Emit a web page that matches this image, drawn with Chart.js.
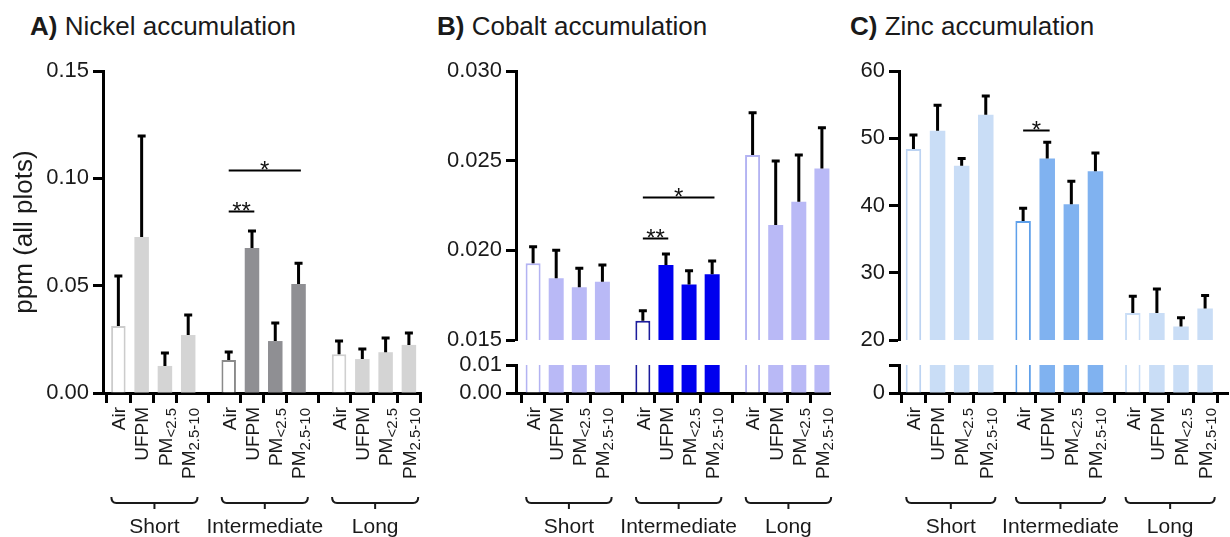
<!DOCTYPE html>
<html>
<head>
<meta charset="utf-8">
<script src="https://cdn.jsdelivr.net/npm/chart.js@4.4.1/dist/chart.umd.min.js"></script>
<style>
  html, body { margin: 0; padding: 0; background: #fff; }
  body { width: 1230px; height: 537px; position: relative; overflow: hidden;
         font-family: "Liberation Sans", Arial, sans-serif; }
  canvas { position: absolute; top: 0; }
  .title { position: absolute; top: 13px; font-size: 26px; line-height: 26px; color: #1a1a1a; white-space: nowrap; }
</style>
</head>
<body>
<div class="title" style="left:30px"><b>A)</b> Nickel accumulation</div>
<div class="title" style="left:437px"><b>B)</b> Cobalt accumulation</div>
<div class="title" style="left:850px"><b>C)</b> Zinc accumulation</div>
<canvas id="cA" width="425" height="537" style="left:0px"></canvas>
<canvas id="cB" width="410" height="537" style="left:425px"></canvas>
<canvas id="cC" width="395" height="537" style="left:835px"></canvas>
<script>
// ---------------- data ----------------
const CATEGORIES = ['Air', 'UFPM', 'PM<2.5', 'PM2.5-10'];
const CATEGORY_MAIN = ['Air', 'UFPM', 'PM', 'PM'];
const CATEGORY_SUB = ['', '', '<2.5', '2.5-10'];
const GROUPS = ['Short', 'Intermediate', 'Long'];

// order: Short(Air,UFPM,PM<2.5,PM2.5-10), Intermediate(...), Long(...)
const NICKEL_MEAN = [0.0312, 0.0727, 0.0126, 0.0270, 0.0154, 0.0675, 0.0242, 0.0508, 0.0180, 0.0158, 0.0190, 0.0224];
const NICKEL_SEM  = [0.0233, 0.0470, 0.0060, 0.0093, 0.0037, 0.0080, 0.0084, 0.0097, 0.0062, 0.0047, 0.0066, 0.0056];
const COBALT_MEAN = [0.01928, 0.01844, 0.01794, 0.01825, 0.01608, 0.01918, 0.01810, 0.01866, 0.02531, 0.02141, 0.02271, 0.02457];
const COBALT_SEM  = [0.00092, 0.00156, 0.00106, 0.00093, 0.00055, 0.00062, 0.00076, 0.00074, 0.00236, 0.00357, 0.00260, 0.00226];
const ZINC_MEAN = [48.4, 51.1, 45.9, 53.5, 37.7, 47.0, 40.2, 45.1, 24.0, 24.0, 22.0, 24.7];
const ZINC_SEM  = [2.1, 3.8, 1.1, 2.8, 1.9, 2.4, 3.4, 2.7, 2.5, 3.6, 1.3, 1.9];

const NICKEL_TICKS = [0, 0.05, 0.10, 0.15];
const NICKEL_TICK_LABELS = ['0.00', '0.05', '0.10', '0.15'];
const COBALT_TICKS_UPPER = [0.015, 0.020, 0.025, 0.030];
const COBALT_TICK_LABELS_UPPER = ['0.015', '0.020', '0.025', '0.030'];
const COBALT_TICKS_LOWER = [0, 0.01];
const COBALT_TICK_LABELS_LOWER = ['0.00', '0.01'];
const ZINC_TICKS_UPPER = [20, 30, 40, 50, 60];
const ZINC_TICK_LABELS_UPPER = ['20', '30', '40', '50', '60'];
const ZINC_TICKS_LOWER = [0, 5];
const ZINC_TICK_LABELS_LOWER = ['0', ''];

// significance brackets: bar index from/to, height in data units
const NICKEL_SIG = [{ from: 4, to: 5, y: 0.0848, text: '**' }, { from: 4, to: 7, y: 0.1040, text: '*' }];
const COBALT_SIG = [{ from: 4, to: 5, y: 0.0207, text: '**' }, { from: 4, to: 7, y: 0.02296, text: '*' }];
const ZINC_SIG = [{ from: 4, to: 5, y: 51.3, text: '*' }];

const Y_TITLE = 'ppm (all plots)';

// ---------------- styling / layout ----------------
const FONT = "'Liberation Sans', Arial, sans-serif";
Chart.defaults.font.family = FONT;
Chart.defaults.color = '#1a1a1a';

const PANELS = [
  { id: 'cA', mean: NICKEL_MEAN, sem: NICKEL_SEM, sig: NICKEL_SIG,
    upper: { min: 0, max: 0.15, ticks: NICKEL_TICKS, labels: NICKEL_TICK_LABELS },
    lower: null, yTitle: Y_TITLE,
    yAxisWidth: 103, padRight: 4, xMin: -0.66, xMax: 13.0, stride: 4.74, barThickness: 14.5,
    fill: ['#d4d4d4', '#8f8f93', '#d4d4d4'], airBorder: ['#cccccc', '#8a8a8a', '#d0d0d0'] },
  { id: 'cB', mean: COBALT_MEAN, sem: COBALT_SEM, sig: COBALT_SIG,
    upper: { min: 0.015, max: 0.030, ticks: COBALT_TICKS_UPPER, labels: COBALT_TICK_LABELS_UPPER },
    lower: { min: 0, max: 0.01, ticks: COBALT_TICKS_LOWER, labels: COBALT_TICK_LABELS_LOWER },
    yTitle: null,
    yAxisWidth: 91, padRight: 5, xMin: -0.74, xMax: 12.85, stride: 4.75, barThickness: 15,
    fill: ['#b9b9f6', '#0000ee', '#b9b9f6'], airBorder: ['#b3b3f2', '#1c1c9c', '#b3b3f2'] },
  { id: 'cC', mean: ZINC_MEAN, sem: ZINC_SEM, sig: ZINC_SIG,
    upper: { min: 20, max: 60, ticks: ZINC_TICKS_UPPER, labels: ZINC_TICK_LABELS_UPPER },
    lower: { min: 0, max: 5, ticks: ZINC_TICKS_LOWER, labels: ZINC_TICK_LABELS_LOWER },
    yTitle: null,
    yAxisWidth: 64, padRight: 2, xMin: -0.6, xMax: 13.05, stride: 4.55, barThickness: 15.5,
    fill: ['#c9ddf6', '#80b2f0', '#c9ddf6'], airBorder: ['#bcd3f2', '#5fa0ea', '#c9ddf6'] }
];

const CHART_TOP = 71, X_AXIS_HEIGHT = 144;
const SEG_UPPER = 269, SEG_GAP = 25, SEG_LOWER = 28;

function xPos(p, k) { return Math.floor(k / 4) * p.stride + (k % 4); }

function yAxis(p, spec, extra) {
  return Object.assign({
    type: 'linear', position: 'left', min: spec.min, max: spec.max,
    afterBuildTicks: s => { s.ticks = spec.ticks.map(v => ({ value: v })); },
    afterFit: s => { s.width = p.yAxisWidth; },
    ticks: { autoSkip: false, padding: 4, color: '#1a1a1a', font: { size: 22 },
             callback: (v, i) => spec.labels[i] },
    grid: { drawOnChartArea: false, drawTicks: true, tickLength: 10, tickWidth: 3, tickColor: '#000' },
    border: { display: true, color: '#000', width: 3 }
  }, extra || {});
}

function makeChart(p) {
  const pts = p.mean.map((v, k) => ({ x: xPos(p, k), y: v }));
  const tickPositions = p.mean.map((v, k) => xPos(p, k));
  const style = {
    backgroundColor: c => (c.dataIndex % 4 === 0 ? '#ffffff' : p.fill[Math.floor(c.dataIndex / 4)]),
    borderColor: c => (c.dataIndex % 4 === 0 ? p.airBorder[Math.floor(c.dataIndex / 4)] : 'rgba(0,0,0,0)'),
    borderWidth: c => (c.dataIndex % 4 === 0 ? 2 : 0),
    borderSkipped: 'start', grouped: false, barThickness: p.barThickness, inflateAmount: 0
  };
  const datasets = [Object.assign({ label: 'upper', data: pts, yAxisID: 'y' }, style)];
  if (p.lower) datasets.push(Object.assign({ label: 'lower', data: pts.map(q => ({ x: q.x, y: q.y })), yAxisID: 'yLow' }, style));

  const scales = {
    x: {
      type: 'linear', position: 'bottom', min: p.xMin, max: p.xMax, offset: false,
      afterBuildTicks: s => { s.ticks = tickPositions.map(v => ({ value: v })); },
      afterFit: s => { s.height = X_AXIS_HEIGHT; },
      ticks: { display: false },
      grid: { drawOnChartArea: false, drawTicks: true, tickLength: 10, tickWidth: 3, tickColor: '#000' },
      border: { display: true, color: '#000', width: 3 }
    }
  };
  if (p.lower) {
    scales.y = yAxis(p, p.upper, { stack: 'seg', stackWeight: SEG_UPPER, weight: 3 });
    scales.yGap = { type: 'linear', display: false, stack: 'seg', stackWeight: SEG_GAP, weight: 2, min: 0, max: 1 };
    scales.yLow = yAxis(p, p.lower, { stack: 'seg', stackWeight: SEG_LOWER, weight: 1 });
  } else {
    scales.y = yAxis(p, p.upper, {
      title: { display: true, text: p.yTitle, color: '#1a1a1a', font: { size: 26 }, padding: { top: 9, bottom: 0 } }
    });
  }

  const axisClip = {
    id: 'axisClip',
    beforeDatasetDraw(chart, args) {
      const ys = chart.scales[args.meta.yAxisID];
      const a = chart.chartArea, ctx = chart.ctx;
      ctx.save(); ctx.beginPath();
      ctx.rect(a.left - 2, ys.top, a.right - a.left + 4, ys.bottom - ys.top);
      ctx.clip();
    },
    afterDatasetDraw(chart) { chart.ctx.restore(); }
  };

  const extras = {
    id: 'extras',
    afterDatasetsDraw(chart) {
      const ctx = chart.ctx, xs = chart.scales.x, ys = chart.scales.y;
      const meta = chart.getDatasetMeta(0);
      // error bars (upper only)
      ctx.save();
      ctx.strokeStyle = '#000'; ctx.lineWidth = 3; ctx.lineCap = 'butt';
      p.mean.forEach((v, k) => {
        const x = meta.data[k].x;
        const y0 = ys.getPixelForValue(v), y1 = ys.getPixelForValue(v + p.sem[k]);
        ctx.beginPath();
        ctx.moveTo(x, y0); ctx.lineTo(x, y1 - 1.5);
        ctx.moveTo(x - 4, y1); ctx.lineTo(x + 4, y1);
        ctx.stroke();
      });
      // significance lines
      ctx.lineWidth = 2; ctx.fillStyle = '#111';
      p.sig.forEach(s => {
        const x1 = xs.getPixelForValue(xPos(p, s.from));
        const x2 = xs.getPixelForValue(xPos(p, s.to) + 0.1);
        const y = Math.round(ys.getPixelForValue(s.y)) + 0.5;
        ctx.beginPath(); ctx.moveTo(x1, y); ctx.lineTo(x2, y); ctx.stroke();
        ctx.font = '24px ' + FONT; ctx.textAlign = 'center'; ctx.textBaseline = 'alphabetic';
        ctx.fillText(s.text, (x1 + x2) / 2, y + 7);
      });
      ctx.restore();
    },
    afterDraw(chart) {
      const ctx = chart.ctx, xs = chart.scales.x;
      const base = chart.chartArea.bottom;
      ctx.save();
      ctx.fillStyle = '#1a1a1a';
      // rotated category labels with subscripts
      p.mean.forEach((v, k) => {
        const px = xs.getPixelForValue(xPos(p, k));
        const c = k % 4;
        const main = CATEGORY_MAIN[c], sub = CATEGORY_SUB[c];
        ctx.save();
        ctx.translate(px, base + 14);
        ctx.rotate(-Math.PI / 2);
        ctx.textAlign = 'left'; ctx.textBaseline = 'alphabetic';
        ctx.font = '19px ' + FONT;
        const wm = ctx.measureText(main).width;
        ctx.font = '15px ' + FONT;
        const ws = sub ? ctx.measureText(sub).width + 1 : 0;
        ctx.font = '19px ' + FONT;
        ctx.fillText(main, -(wm + ws), 6.8);
        if (sub) { ctx.font = '15px ' + FONT; ctx.fillText(sub, -ws, 11); }
        ctx.restore();
      });
      // group brackets and labels
      ctx.strokeStyle = '#1a1a1a'; ctx.lineWidth = 2;
      GROUPS.forEach((g, gi) => {
        const x1 = xs.getPixelForValue(xPos(p, gi * 4) - 0.3);
        const x2 = xs.getPixelForValue(xPos(p, gi * 4 + 3) + 0.4);
        const xm = (x1 + x2) / 2;
        const yT = 497, yH = 503;
        ctx.beginPath();
        ctx.moveTo(x1, yT); ctx.quadraticCurveTo(x1, yH, x1 + 5, yH);
        ctx.lineTo(x2 - 5, yH); ctx.quadraticCurveTo(x2, yH, x2, yT);
        ctx.moveTo(xm, yH); ctx.lineTo(xm, 509);
        ctx.stroke();
        ctx.font = '21px ' + FONT; ctx.textAlign = 'center'; ctx.textBaseline = 'alphabetic';
        ctx.fillText(g, xm, 533);
      });
      ctx.restore();
    }
  };

  return new Chart(document.getElementById(p.id), {
    type: 'bar',
    data: { datasets },
    options: {
      responsive: false, animation: false, devicePixelRatio: 1,
      layout: { padding: { top: CHART_TOP, left: 0, right: p.padRight, bottom: 0 } },
      plugins: { legend: { display: false }, tooltip: { enabled: false } },
      scales
    },
    plugins: [axisClip, extras]
  });
}

PANELS.forEach(makeChart);
</script>
</body>
</html>
